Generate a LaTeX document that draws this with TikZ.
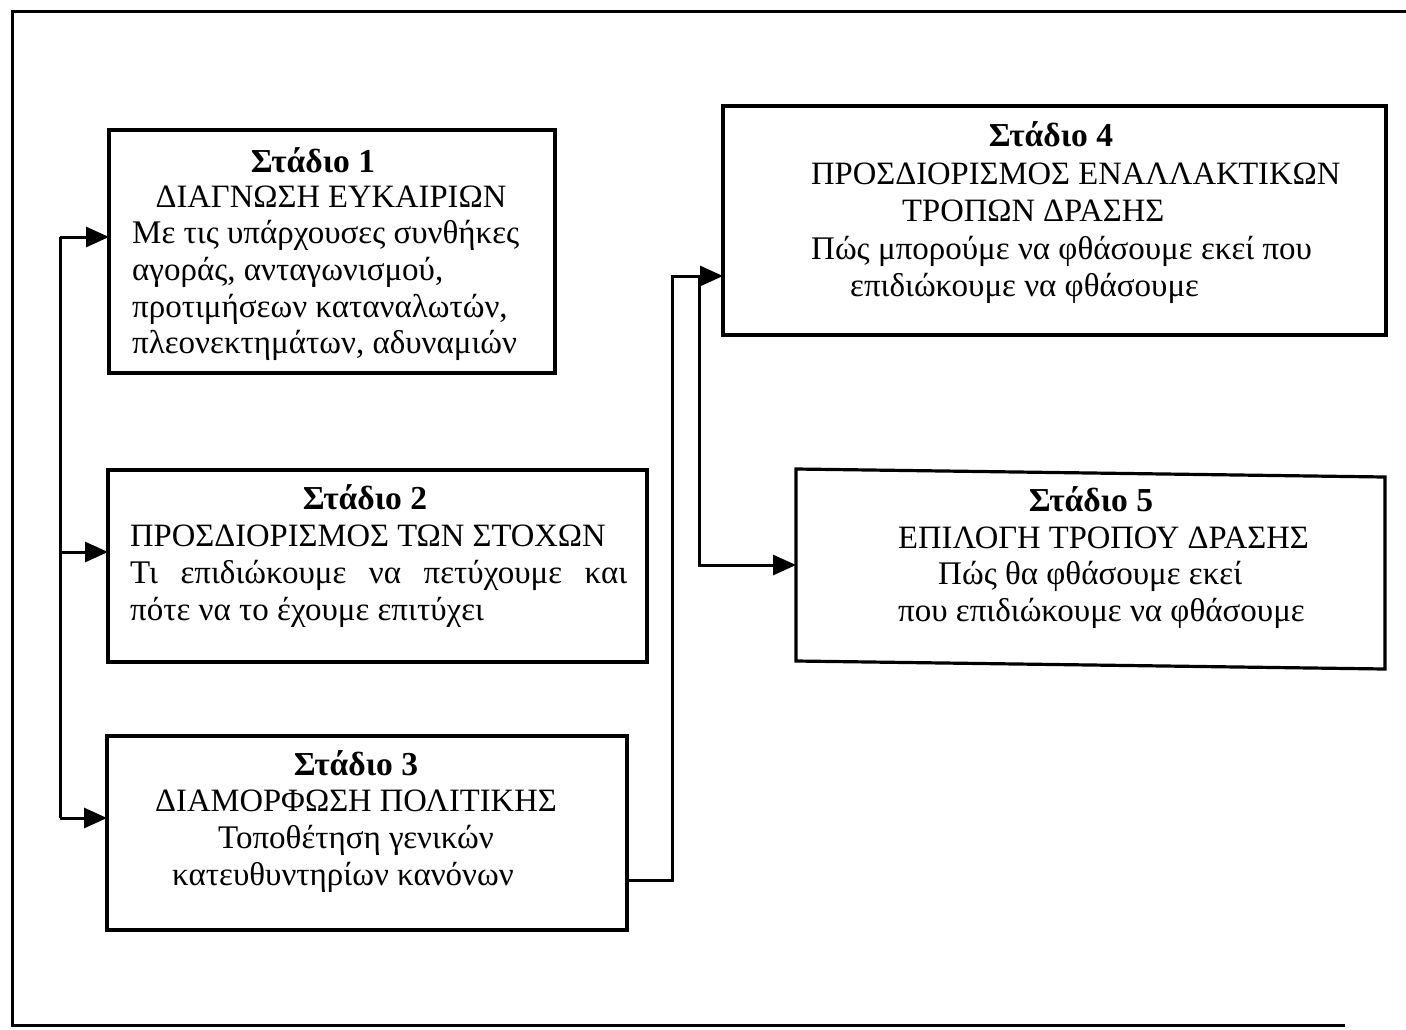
\documentclass[tikz,border=0pt]{standalone}
\usepackage{fontspec}
\setmainfont{Liberation Serif}
\usetikzlibrary{arrows.meta,calc}
\begin{document}
\begin{tikzpicture}[x=1pt,y=-1pt,
  stagebox/.style={draw, line width=3.2pt, inner sep=0pt, outer sep=0pt},
  ghostbox/.style={draw=none, inner sep=0pt, outer sep=0pt},
  txt/.style={inner sep=0pt, font=\fontsize{33}{38}\selectfont},
  captxt/.style={inner sep=0pt, font=\fontsize{32.6}{38}\selectfont},
  ttl/.style={inner sep=0pt, font=\fontsize{33.5}{38}\selectfont\bfseries},
  wire/.style={line width=3pt},
  arr/.style={line width=3pt, -{Triangle[length=23pt,width=20pt]}},
  frameline/.style={line width=3pt}]
\useasboundingbox (0,0) rectangle (1406,1029);
% outer frame
\draw[frameline] (1406,11) -- (12,11) -- (12,1025) -- (1345,1025);
% boxes
\node[stagebox, minimum width=446pt, minimum height=243pt] (b1) at (332,251.5) {};
\node[stagebox, minimum width=539pt, minimum height=192pt] (b2) at (377.5,566) {};
\node[stagebox, minimum width=520pt, minimum height=194pt] (b3) at (367,833) {};
\node[stagebox, minimum width=663pt, minimum height=229pt] (b4) at (1054.5,220.5) {};
\node[ghostbox, minimum width=589pt, minimum height=192pt] (b5) at (1090.5,565) {};
\draw[line width=3.2pt] (b5.north west) -- ($(b5.north east)+(0,8)$) -- ($(b5.south east)+(0,8)$) -- (b5.south west) -- cycle;
% texts box 1
\node[ttl, anchor=base] (t1a) at (313,172) {Στάδιο 1};
\node[captxt, anchor=base] (t1b) at (331,207) {ΔΙΑΓΝΩΣΗ ΕΥΚΑΙΡΙΩΝ};
\node[txt, anchor=base west] (t1c) at (132,243) {Με τις υπάρχουσες συνθήκες};
\node[txt, anchor=base west] (t1d) at (132,280) {αγοράς, ανταγωνισμού,};
\node[txt, anchor=base west] (t1e) at (132,317) {προτιμήσεων καταναλωτών,};
\node[txt, anchor=base west] (t1f) at (132,353) {πλεονεκτημάτων, αδυναμιών};
% texts box 2
\node[ttl, anchor=base] (t2a) at (365,509) {Στάδιο 2};
\node[captxt, anchor=base west] (t2b) at (130,546) {ΠΡΟΣΔΙΟΡΙΣΜΟΣ ΤΩΝ ΣΤΟΧΩΝ};
\node[txt, anchor=base west] (t2c) at (130,583) {\makebox[497pt][s]{Τι επιδιώκουμε να πετύχουμε και}};
\node[txt, anchor=base west] (t2d) at (130,620) {πότε να το έχουμε επιτύχει};
% texts box 3
\node[ttl, anchor=base] (t3a) at (356,775) {Στάδιο 3};
\node[captxt, anchor=base] (t3b) at (356,811) {ΔΙΑΜΟΡΦΩΣΗ ΠΟΛΙΤΙΚΗΣ};
\node[txt, anchor=base] (t3c) at (356,848) {Τοποθέτηση γενικών};
\node[txt, anchor=base] (t3d) at (343,885) {κατευθυντηρίων κανόνων};
% texts box 4
\node[ttl, anchor=base] (t4a) at (1051,146) {Στάδιο 4};
\node[captxt, anchor=base west] (t4b) at (811,184) {ΠΡΟΣΔΙΟΡΙΣΜΟΣ ΕΝΑΛΛΑΚΤΙΚΩΝ};
\node[captxt, anchor=base west] (t4c) at (902,221) {ΤΡΟΠΩΝ ΔΡΑΣΗΣ};
\node[txt, anchor=base west] (t4d) at (811,259) {Πώς μπορούμε να φθάσουμε εκεί που};
\node[txt, anchor=base west] (t4e) at (850,296) {επιδιώκουμε να φθάσουμε};
% texts box 5
\node[ttl, anchor=base] (t5a) at (1091,511) {Στάδιο 5};
\node[captxt, anchor=base west] (t5b) at (898,548) {ΕΠΙΛΟΓΗ ΤΡΟΠΟΥ ΔΡΑΣΗΣ};
\node[txt, anchor=base west] (t5c) at (938,584) {Πώς θα φθάσουμε εκεί};
\node[txt, anchor=base west] (t5d) at (898,621) {που επιδιώκουμε να φθάσουμε};
% left bus
\coordinate (bus1) at (60,237);
\coordinate (bus2) at (60,552);
\coordinate (bus3) at (60,818);
\draw[wire] (bus1) -- (bus3);
\draw[arr] (bus1) -- (bus1 -| b1.west);
\draw[arr] (bus2) -- (bus2 -| b2.west);
\draw[arr] (bus3) -- (bus3 -| b3.west);
% right connector
\coordinate (r0) at (672,880);
\coordinate (r1) at (672,276);
\coordinate (r2) at (699,276);
\coordinate (r3) at (699,565);
\draw[wire] (r0 -| b3.east) -- (r0) -- (r1) -- (r2);
\draw[arr] (r2) -- (r2 -| b4.west);
\draw[arr] (r2) -- (r3) -- (r3 -| b5.west);
\end{tikzpicture}
\end{document}
